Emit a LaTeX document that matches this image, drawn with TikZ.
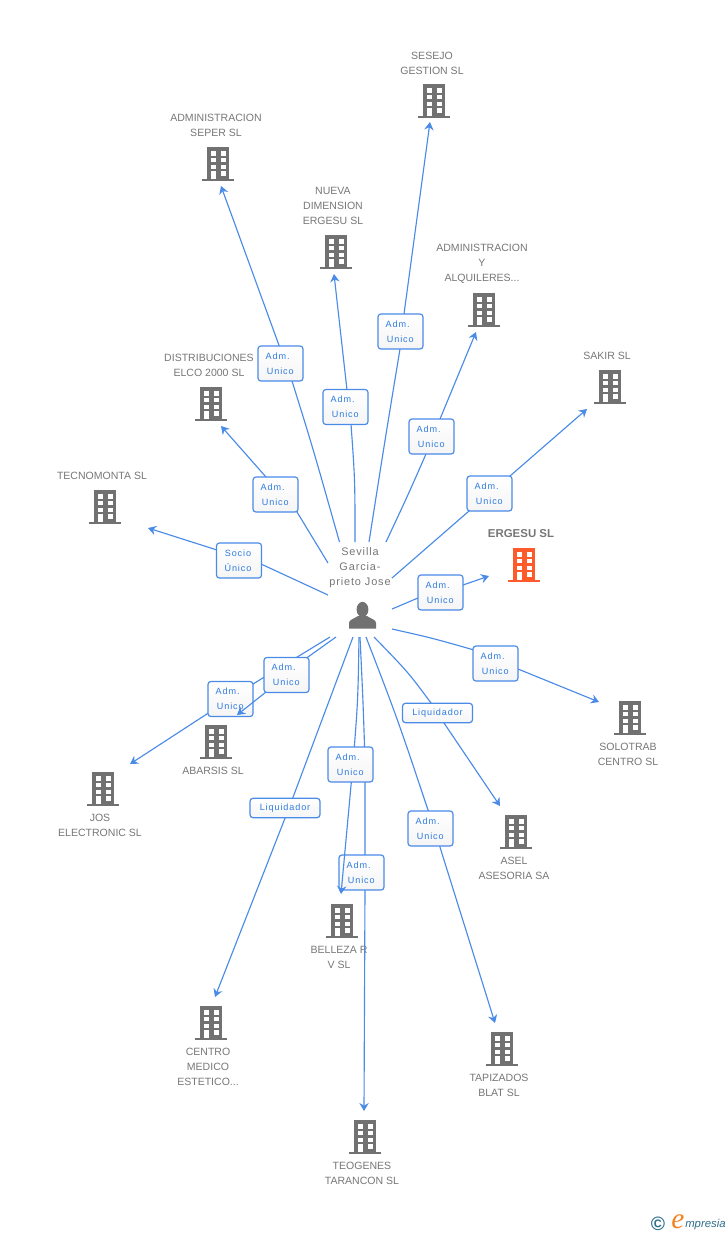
\documentclass[tikz,border=0pt]{standalone}
\usepackage{fontspec}
\setmainfont{Liberation Sans}
\newfontfamily\lblfont[LetterSpace=10]{Liberation Sans}
\newfontfamily\perfont[LetterSpace=8]{Liberation Sans}
\newfontfamily\logofont{Liberation Serif}
\usetikzlibrary{arrows.meta}
\definecolor{edgeblue}{HTML}{4A8BE8}
\definecolor{lbltext}{HTML}{2F7BE0}
\definecolor{iconGrey}{HTML}{717171}
\definecolor{nameGrey}{HTML}{777777}
\definecolor{orangeIcon}{HTML}{FF5A2B}
\definecolor{logoTeal}{HTML}{2E6F8C}
\definecolor{logoOrange}{HTML}{F58220}
\tikzset{
  x=0.75pt,y=-0.75pt,
  edge/.style={draw=edgeblue,line width=0.85pt,-{Stealth[length=6pt,width=7pt,inset=2pt]}},
  lbl/.style={draw=edgeblue,line width=0.9pt,rounded corners=2.2pt,top color=white,bottom color=white!96!black,
    minimum width=33.75pt,minimum height=26.25pt,inner sep=0pt,text width=33.75pt,align=left,text=lbltext,
    font=\lblfont\fontsize{6.8pt}{11.25pt}\selectfont},
  lblwide/.style={lbl,text width=52.5pt,minimum width=52.5pt,minimum height=14.5pt,align=center},
  nm/.style={inner sep=0pt,align=center,text=nameGrey,font=\fontsize{7.9pt}{11.25pt}\selectfont},
  per/.style={inner sep=0pt,align=center,text=nameGrey,font=\perfont\fontsize{8.2pt}{11.25pt}\selectfont},
  bldbox/.style={minimum width=24pt,minimum height=25.5pt,inner sep=0pt},
}
\newcommand{\admu}{\hspace*{5.8pt}Adm.\\\hspace*{6.7pt}Unico}
\newcommand{\building}[4][iconGrey]{%
  \node[bldbox] (#2) at (#3,#4) {};
  \begin{scope}[shift={(#3,#4)}]
    \fill[#1] (-11,-17) rectangle (11,14.5);
    \fill[#1] (-16,14.5) rectangle (16,17);
    \foreach \wx in {-7.4,2.5}{
      \foreach \wy in {-12.7,-6,0.7}{
        \fill[white] (\wx,\wy) rectangle ++(5,4.2);
      }
    }
    \fill[white] (2.5,7.3) rectangle ++(5,4.2);
    \fill[white] (-7.4,7.3) rectangle ++(5,7.2);
  \end{scope}
}
\begin{document}
\begin{tikzpicture}
\useasboundingbox (0,0) rectangle (728,1235);
\fill[white] (0,0) rectangle (728,1235);

% Buildings
\building{sesejo}{434}{101}
\building{seper}{218}{164}
\building{nueva}{336}{252}
\building{alq}{484}{310}
\building{sakir}{610}{387}
\building{distrib}{211}{404}
\building{tecno}{105}{507}
\building[orangeIcon]{ergesu}{524}{565}
\building{solotrab}{630}{718}
\building{abarsis}{216}{742}
\building{jos}{103}{789}
\building{asel}{516}{832}
\building{belleza}{342}{921}
\building{centro}{211}{1023}
\building{tapiz}{502}{1049}
\building{teog}{365}{1137}

% Names
\node[nm] (n1) at (432,63.5) {SESEJO\\GESTION SL};
\node[nm] (n2) at (216,125.5) {ADMINISTRACION\\SEPER SL};
\node[nm] (n3) at (333,206) {NUEVA\\DIMENSION\\ERGESU SL};
\node[nm] (n4) at (482,264) {ADMINISTRACION\\Y\\ALQUILERES...};
\node[nm] (n5) at (607,356) {SAKIR SL};
\node[nm] (n6) at (209,365.5) {DISTRIBUCIONES\\ELCO 2000 SL};
\node[nm] (n7) at (102,476) {TECNOMONTA SL};
\node[nm,font=\bfseries\fontsize{8.6pt}{11pt}\selectfont] (n8) at (521,534) {ERGESU SL};
\node[nm] (n9) at (628,754.5) {SOLOTRAB\\CENTRO SL};
\node[nm] (n10) at (213,771) {ABARSIS SL};
\node[nm] (n11) at (100,825.5) {JOS\\ELECTRONIC SL};
\node[nm] (n12) at (514,868.5) {ASEL\\ASESORIA SA};
\node[nm] (n13) at (339,957.5) {BELLEZA R\\V SL};
\node[nm] (n14) at (208,1067) {CENTRO\\MEDICO\\ESTETICO...};
\node[nm] (n15) at (499,1085.5) {TAPIZADOS\\BLAT SL};
\node[nm] (n16) at (362,1173.5) {TEOGENES\\TARANCON SL};
\node[per] (person) at (360,568) {Sevilla\\Garcia-\\prieto Jose};

% Person icon
\fill[iconGrey] (362.5,609.5) ellipse (5.9 and 7.6);
\fill[iconGrey] (349,628.5) -- (349,623) .. controls (349,619.5) and (354,619) .. (358,616)
  -- (367,616) .. controls (371,619) and (376,619.5) .. (376,623) -- (376,628.5) -- cycle;

% Free ends of connectors
\coordinate (s1) at (369,542);  \coordinate (t1) at (430,122);
\coordinate (s2) at (339.5,542);\coordinate (t2) at (221,186);
\coordinate (s3) at (355,542);  \coordinate (t3) at (334,274);
\coordinate (s4) at (386,542);  \coordinate (t4) at (476,332);
\coordinate (s5) at (392,578);  \coordinate (t5) at (587,409);
\coordinate (s6) at (328,563);  \coordinate (t6) at (221,426);
\coordinate (s7) at (328,595);  \coordinate (t7) at (148,528);
\coordinate (s8) at (392,609);  \coordinate (t8) at (489,576);
\coordinate (s9) at (392,629);  \coordinate (t9) at (599,702);
\coordinate (s10) at (336,637); \coordinate (t10) at (237,715);
\coordinate (s11) at (330,637); \coordinate (t11) at (130,764);
\coordinate (s12) at (353,637); \coordinate (t12) at (215,997);
\coordinate (s13) at (359,637); \coordinate (t13) at (341,894);
\coordinate (s14) at (360,637); \coordinate (t14) at (364,1111);
\coordinate (s15) at (366,637); \coordinate (t15) at (495,1023);
\coordinate (s16) at (374,637); \coordinate (t16) at (500,806);

% Edges with labels
\draw[edge] (s1) .. controls (385,440) .. (400,349) -- (404,314) -- (t1);
\node[lbl] (a1) at (400.5,331.5) {\admu};

\draw[edge] (s2) .. controls (312,445) .. (292,381) -- (t2);
\node[lbl] (a2) at (280.5,363.5) {\admu};

\draw[edge] (s3) .. controls (355,480) .. (351,424) -- (347,390) -- (t3);
\node[lbl] (a3) at (345.5,407) {\admu};

\draw[edge] (s4) .. controls (408,495) .. (426,454) -- (440,419) -- (t4);
\node[lbl] (a4) at (431.5,436.5) {\admu};

\draw[edge] (s5) -- (469,511) -- (510,476) -- (t5);
\node[lbl] (a5) at (489.5,493.5) {\admu};

\draw[edge] (s6) -- (297,512) -- (266,477) -- (t6);
\node[lbl] (a6) at (275.5,494.5) {\admu};

\draw[edge] (s7) -- (261,564) -- (217,550) -- (t7);
\node[lbl,align=center] (a7) at (239,560.5) {\hspace*{-1.5pt}Socio\\\hspace*{-1.5pt}Único};

\draw[edge] (s8) -- (418,598) -- (463,585) -- (t8);
\node[lbl] (a8) at (440.5,592.5) {\admu};

\draw[edge] (s9) .. controls (432,638) .. (474,650) -- (518,669) -- (t9);
\node[lbl] (a9) at (495.5,663.5) {\admu};

\draw[edge] (s11) -- (253,684) -- (t11);
\node[lbl] (a11) at (230.5,699) {\admu};

\draw[edge] (s10) -- (308,657) -- (266,692) -- (t10);
\node[lbl] (a10) at (286.5,675) {\admu};

\draw[edge] (s12) -- (289,808) -- (t12);
\node[lblwide] (a12) at (285,808) {Liquidador};

\draw[edge] (s14) .. controls (363,700) .. (365,760) -- (365,889) -- (t14);
\node[lbl] (a14) at (361.5,872.5) {\admu};

\draw[edge] (s13) .. controls (358,700) .. (353,764) -- (t13);
\node[lbl] (a13) at (350.5,764.5) {\admu};

\draw[edge] (s15) .. controls (398,720) .. (434,828) -- (t15);
\node[lbl] (a15) at (430.5,828.5) {\admu};

\draw[edge] (s16) .. controls (408,672) .. (431,703) -- (444,723) -- (t16);
\node[lblwide] (a16) at (437.5,713) {Liquidador};

% Logo
\node[inner sep=0pt,text=logoTeal,font=\bfseries\fontsize{14.5pt}{15pt}\selectfont] (copyr) at (658,1224) {©};
\node[inner sep=0pt,text=logoOrange,font=\logofont\itshape\fontsize{22pt}{22pt}\selectfont] (logoe) at (678,1222) {e};
\node[inner sep=0pt,anchor=west,text=logoTeal,font=\itshape\fontsize{8.5pt}{11pt}\selectfont] (logot) at (685,1224.5) {mpresia};
\end{tikzpicture}
\end{document}
